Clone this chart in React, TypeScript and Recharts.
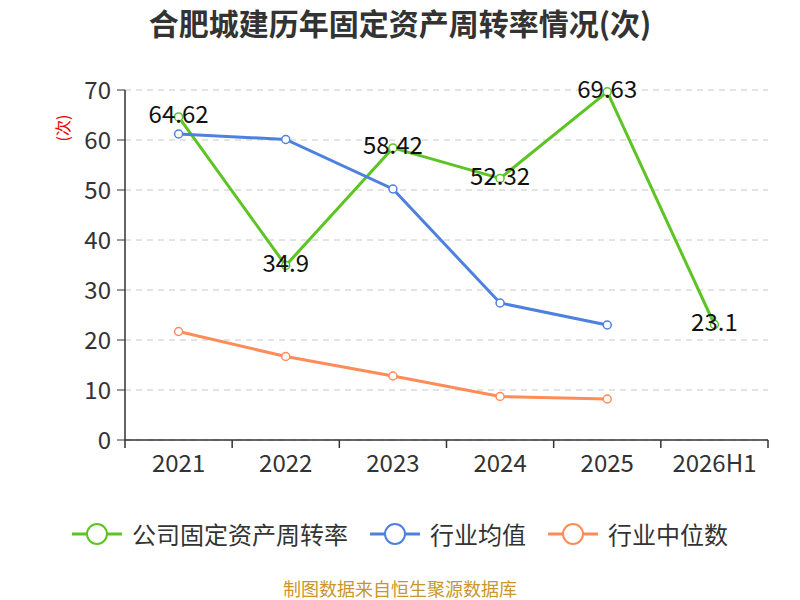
import React from 'react';
import { LineChart, Line, XAxis, YAxis, CartesianGrid, LabelList } from 'recharts';

const categories = ['2021', '2022', '2023', '2024', '2025', '2026H1'];
const companyValues = [64.62, 34.9, 58.42, 52.32, 69.63, 23.1];
const industryMean = [61.2, 60.1, 50.2, 27.4, 23.0, null];
const industryMedian = [21.7, 16.7, 12.8, 8.7, 8.2, null];
const yTicks = [0, 10, 20, 30, 40, 50, 60, 70];

const GREEN = '#5cc423';
const BLUE = '#4e80e0';
const ORANGE = '#fd8c58';
const FONT = '"Noto Sans CJK SC", "Noto Sans", sans-serif';

const data = categories.map((c, i) => ({
  name: c,
  company: companyValues[i],
  mean: industryMean[i],
  median: industryMedian[i],
}));

const legendItems = [
  { label: '公司固定资产周转率', color: GREEN },
  { label: '行业均值', color: BLUE },
  { label: '行业中位数', color: ORANGE },
];

const BandTick = (props: any) => {
  const { x, y, payload, index } = props;
  const off = payload && payload.offset ? payload.offset : 0;
  const isLast = index === categories.length - 1;
  return (
    <g>
      <line x1={x - off} y1={y} x2={x - off} y2={y + 8} stroke="#333" strokeWidth={1.5} />
      {isLast && <line x1={x + off} y1={y} x2={x + off} y2={y + 8} stroke="#333" strokeWidth={1.5} />}
      <text x={x} y={y + 12} dy="0.85em" textAnchor="middle" fill="#333" fontSize={24} fontFamily={FONT}>
        {payload.value}
      </text>
    </g>
  );
};

export default function App() {
  return (
    <div style={{ position: 'absolute', left: 0, top: 0, width: 800, height: 600, background: '#fff', fontFamily: FONT }}>
      <div style={{ position: 'absolute', left: 0, top: 2, width: 800, textAlign: 'center', fontSize: 30, fontWeight: 'bold', color: '#333', lineHeight: '40px' }}>
        合肥城建历年固定资产周转率情况(次)
      </div>
      <div style={{ position: 'absolute', left: 47, top: 113, width: 30, height: 30, display: 'flex', alignItems: 'center', justifyContent: 'center', transform: 'rotate(-90deg)', color: '#e00', fontSize: 16 }}>
        (次)
      </div>
      <LineChart width={800} height={600} data={data} margin={{ top: 90, right: 32, left: 65, bottom: 120 }}>
        <CartesianGrid horizontal={true} vertical={false} stroke="#c8c8c8" strokeDasharray="6 5" />
        <XAxis
          dataKey="name"
          scale="band"
          height={40}
          tick={BandTick}
          tickLine={false}
          tickSize={0}
          tickMargin={0}
          interval={0}
          stroke="#333"
          axisLine={{ stroke: '#333', strokeWidth: 1.5 }}
        />
        <YAxis
          width={60}
          domain={[0, 70]}
          ticks={yTicks}
          stroke="#333"
          tick={{ fill: '#333', fontSize: 24, fontFamily: FONT }}
          tickSize={8}
          tickMargin={6}
          axisLine={{ stroke: '#333', strokeWidth: 1.5 }}
          interval={0}
        />
        <Line type="linear" dataKey="company" stroke={GREEN} strokeWidth={3} dot={{ r: 4, fill: '#fff', stroke: GREEN, strokeWidth: 1.5 }} isAnimationActive={false}>
          <LabelList dataKey="company" position="center" dy={-2} fill="#111" fontSize={24} fontFamily={FONT} />
        </Line>
        <Line type="linear" dataKey="mean" stroke={BLUE} strokeWidth={3} dot={{ r: 4, fill: '#fff', stroke: BLUE, strokeWidth: 1.5 }} isAnimationActive={false} />
        <Line type="linear" dataKey="median" stroke={ORANGE} strokeWidth={3} dot={{ r: 4, fill: '#fff', stroke: ORANGE, strokeWidth: 1.5 }} isAnimationActive={false} />
      </LineChart>
      <div style={{ position: 'absolute', left: 0, top: 518, width: 800, display: 'flex', justifyContent: 'center', alignItems: 'center', gap: 22 }}>
        {legendItems.map((it) => (
          <div key={it.label} style={{ display: 'flex', alignItems: 'center', gap: 10 }}>
            <svg width={50} height={24}>
              <line x1={0} y1={12} x2={50} y2={12} stroke={it.color} strokeWidth={3} />
              <circle cx={25} cy={12} r={10} fill="#fff" stroke={it.color} strokeWidth={2} />
            </svg>
            <span style={{ fontSize: 24, color: '#333', lineHeight: '32px' }}>{it.label}</span>
          </div>
        ))}
      </div>
      <div style={{ position: 'absolute', left: 0, top: 578, width: 800, textAlign: 'center', fontSize: 18, color: '#c9962c', lineHeight: '20px' }}>
        制图数据来自恒生聚源数据库
      </div>
    </div>
  );
}
